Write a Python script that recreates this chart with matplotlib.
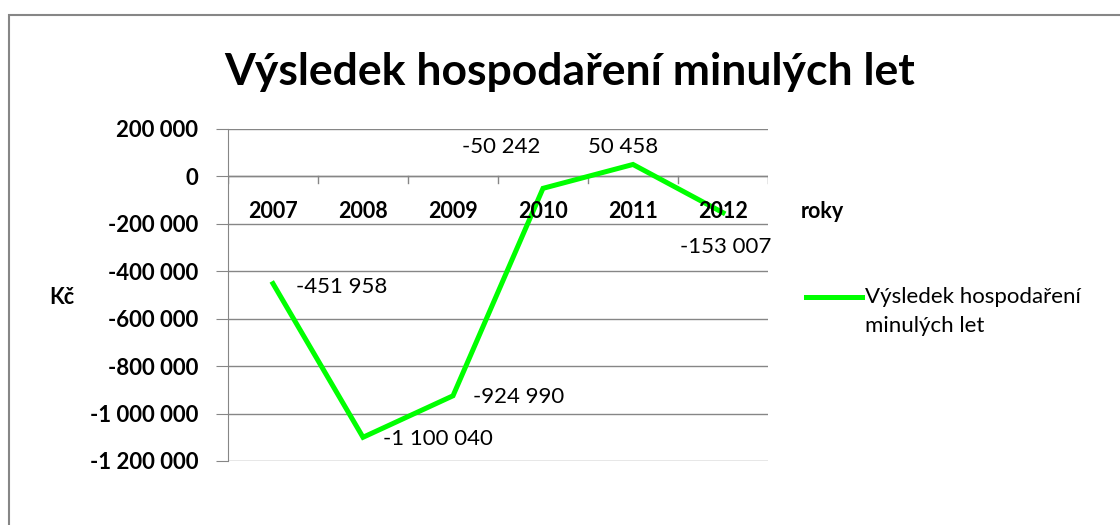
import matplotlib.pyplot as plt
from matplotlib.patches import Rectangle
from matplotlib.lines import Line2D

roky = ["2007", "2008", "2009", "2010", "2011", "2012"]
vysledek = [-451958, -1100040, -924990, -50242, 50458, -153007]
yticks = [200000, 0, -200000, -400000, -600000, -800000, -1000000, -1200000]

# posun popisku dat (v pixelech) - v originale rucne posunute
posun = [(23, -3), (20, -2), (20, -1), (-3, 41), (-10, 17), (3, -34)]
zarovnani = ["left", "left", "left", "right", "center", "center"]

plt.rcParams['font.family'] = ['Lato', 'DejaVu Sans']
SEDA = "#868686"


def fmt(v):
    s = "{:,}".format(abs(v)).replace(",", " ")
    return ("-" if v < 0 else "") + s


fig = plt.figure(figsize=(11.2, 5.25), dpi=100)
# ramecek grafu
fig.patches.append(Rectangle((9 / 1120, -0.1), 1.2, (525 - 15) / 525 + 0.1,
                             transform=fig.transFigure, fill=False,
                             edgecolor=SEDA, lw=1.5))

ax = fig.add_axes([228 / 1120, 1 - 461 / 525, 540 / 1120, 332 / 525])
x = list(range(len(roky)))
ax.plot(x, vysledek, color="#00FF00", lw=3.6, solid_joinstyle="miter")

ax.set_xlim(-0.5, len(roky) - 0.5)
ax.set_ylim(-1200000, 200000)
ax.set_yticks(yticks)
ax.set_yticklabels([fmt(v) for v in yticks], fontsize=16, fontweight="bold")
for yv in yticks:
    ax.axhline(yv, color=SEDA, lw=1, zorder=0)

ax.set_xticks([])
# osa x v nule, carky smerem dolu
ax.axhline(0, color=SEDA, lw=1, zorder=1)
for i in range(len(roky) + 1):
    ax.plot([i - 0.5, i - 0.5], [0, -28000], color=SEDA, lw=1, zorder=1)
for i, r in enumerate(roky):
    ax.text(i, -150000, r, ha="center", va="center", fontsize=15.5,
            fontweight="bold")
ax.text(1.06, -150000, "roky", transform=ax.get_yaxis_transform(),
        ha="left", va="center", fontsize=15.5, fontweight="bold")

for s in ["top", "right", "bottom"]:
    ax.spines[s].set_visible(False)
ax.spines["left"].set_color(SEDA)
ax.tick_params(axis="y", color=SEDA, length=8.6, pad=13)

for i, v in enumerate(vysledek):
    ax.annotate(fmt(v), (i, v), xytext=posun[i], textcoords="offset pixels",
                ha=zarovnani[i], va="center", fontsize=16)

fig.text(62 / 1120, 1 - 297 / 525, "Kč", ha="center", va="center",
         fontsize=15.5, fontweight="bold")
fig.text(570 / 1120, 1 - 72 / 525, "Výsledek hospodaření minulých let",
         ha="center", va="center", fontsize=32, fontweight="bold")

# legenda
fig.add_artist(Line2D([806 / 1120, 862 / 1120], [1 - 297 / 525] * 2,
                      color="#00FF00", lw=3.6, transform=fig.transFigure))
fig.text(865 / 1120, 1 - 297 / 525, "Výsledek hospodaření",
         ha="left", va="center", fontsize=16)
fig.text(865 / 1120, 1 - 326 / 525, "minulých let",
         ha="left", va="center", fontsize=16)

fig.savefig("out.png", dpi=100)
